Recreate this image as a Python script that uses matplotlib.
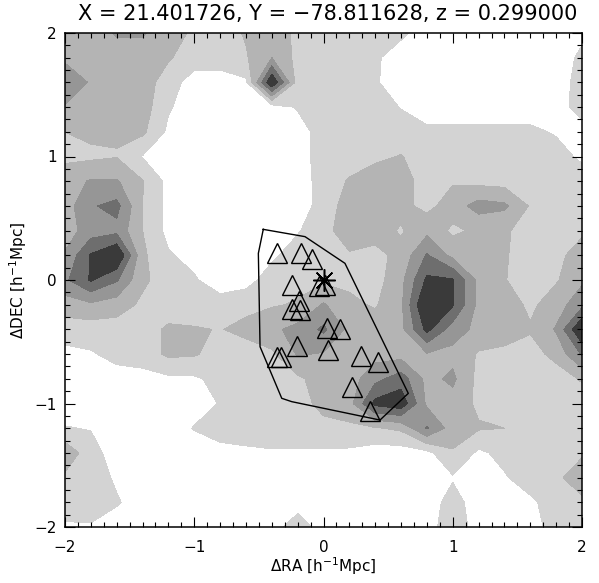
import matplotlib
matplotlib.use("Agg")
import numpy as np
import matplotlib.pyplot as plt
from matplotlib.ticker import MultipleLocator

# Grid nodes of the smoothed galaxy density map [h^-1 Mpc]
ra_nodes = [-2.0, -1.8, -1.6, -1.4, -1.2, -1.0, -0.8, -0.6, -0.4, -0.2, 0.0,
            0.2, 0.4, 0.6, 0.8, 1.0, 1.2, 1.4, 1.6, 1.8, 2.0]
dec_nodes = [2.0, 1.8, 1.6, 1.4, 1.2, 1.0, 0.8, 0.6, 0.4, 0.2, 0.0,
             -0.2, -0.4, -0.6, -0.8, -1.0, -1.2, -1.4, -1.6, -1.8, -2.0]

# Density (contour-level units), one row per dec node, top to bottom
density = [
    [2.0, 2.0, 2.6, 2.6, 2.0, 1.3, 1.0, 1.6, 2.0, 1.3, 1.0, 1.0, 1.0, 0.7, 0.0, 0.0, 0.0, 0.0, 0.0, 0.0, 0.3],
    [2.3, 2.0, 2.0, 2.0, 1.6, 1.0, 1.0, 1.4, 2.5, 1.2, 1.0, 1.0, 0.65, 0.0, 0.0, 0.0, 0.0, 0.0, 0.0, 0.0, 0.7],
    [3.2, 2.4, 2.0, 2.0, 1.0, 0.0, 0.0, 0.3, 5.5, 1.0, 1.0, 1.0, 0.6, 0.0, 0.0, 0.0, 0.0, 0.0, 0.0, 0.0, 0.9],
    [2.4, 2.0, 2.0, 2.0, 0.6, 0.0, 0.0, 0.0, 0.0, 0.6, 1.0, 1.0, 1.0, 0.45, 0.0, 0.0, 0.0, 0.0, 0.0, 0.0, 1.0],
    [1.5, 1.7, 1.6, 1.7, 0.3, 0.0, 0.0, 0.0, 0.0, 0.0, 1.0, 1.0, 1.0, 1.0, 0.7, 0.7, 0.7, 0.7, 0.7, 0.4, 0.0],
    [1.3, 1.3, 1.45, 0.45, 0.0, 0.0, 0.0, 0.0, 0.0, 0.0, 1.0, 1.0, 1.3, 1.55, 1.0, 1.0, 1.0, 1.0, 1.0, 0.9, 0.3],
    [2.0, 2.6, 2.6, 1.55, 0.2, 0.0, 0.0, 0.0, 0.0, 0.0, 0.9, 1.6, 2.0, 1.9, 1.1, 1.4, 1.2, 1.1, 1.0, 1.0, 1.0],
    [2.0, 3.4, 3.8, 1.5, 0.2, 0.0, 0.0, 0.0, 0.0, 0.0, 0.9, 2.0, 2.0, 1.8, 1.2, 2.0, 2.9, 2.7, 1.4, 1.0, 1.0],
    [2.0, 3.0, 3.2, 1.5, 0.2, 0.0, 0.0, 0.0, 0.0, 0.4, 1.2, 2.0, 1.9, 1.4, 2.2, 1.3, 1.7, 1.6, 1.2, 1.0, 1.3],
    [2.6, 4.6, 5.6, 1.7, 0.6, 0.2, 0.0, 0.0, 0.3, 1.0, 1.0, 1.4, 1.2, 1.8, 3.6, 2.2, 2.0, 1.6, 1.0, 1.2, 2.0],
    [3.3, 4.6, 3.6, 1.7, 1.0, 0.6, 0.0, 0.1, 1.0, 1.2, 1.3, 1.3, 1.1, 2.2, 4.7, 4.6, 2.2, 1.55, 1.0, 1.4, 2.3],
    [2.0, 2.3, 2.0, 1.3, 1.0, 0.8, 0.9, 1.2, 1.4, 1.6, 2.6, 1.7, 1.4, 2.3, 5.8, 4.6, 2.2, 2.0, 1.3, 2.0, 3.2],
    [1.0, 1.0, 1.0, 1.1, 1.65, 1.6, 1.45, 1.8, 2.3, 2.8, 3.7, 2.2, 2.0, 2.2, 4.8, 3.0, 2.2, 2.1, 1.6, 2.6, 5.6],
    [0.2, 0.4, 0.8, 0.9, 1.7, 1.6, 1.1, 1.0, 1.3, 2.6, 2.4, 2.1, 2.1, 2.1, 2.4, 2.2, 1.4, 1.2, 1.1, 1.8, 3.6],
    [0.0, 0.0, 0.1, 0.2, 0.3, 0.35, 0.8, 1.0, 1.0, 1.3, 2.0, 2.0, 3.2, 4.0, 2.2, 2.7, 1.2, 1.0, 1.0, 1.0, 1.6],
    [0.0, 0.0, 0.0, 0.0, 0.0, 0.1, 0.55, 1.0, 1.0, 1.1, 1.8, 2.1, 4.8, 5.2, 2.3, 2.1, 1.3, 1.0, 1.0, 1.0, 1.0],
    [0.55, 0.45, 0.0, 0.0, 0.0, 0.55, 0.9, 1.0, 1.0, 1.0, 1.2, 1.3, 1.4, 1.7, 3.6, 2.0, 1.6, 1.5, 1.0, 1.0, 1.0],
    [2.2, 0.9, 0.0, 0.0, 0.0, 0.0, 0.2, 0.3, 0.4, 0.4, 0.35, 0.3, 0.0, 0.0, 0.2, 1.4, 0.3, 0.8, 1.0, 1.0, 1.3],
    [1.3, 1.0, 0.35, 0.0, 0.0, 0.0, 0.0, 0.0, 0.0, 0.0, 0.0, 0.0, 0.0, 0.0, 0.0, 0.4, 0.0, 0.4, 1.0, 1.2, 2.3],
    [1.2, 1.0, 0.6, 0.0, 0.0, 0.0, 0.0, 0.0, 0.0, 0.0, 0.0, 0.0, 0.0, 0.0, 0.0, 0.9, 0.0, 0.0, 0.3, 1.0, 1.2],
    [0.3, 0.4, 0.0, 0.0, 0.0, 0.0, 0.0, 0.0, 0.0, 1.1, 0.0, 0.0, 0.0, 0.0, 0.0, 1.2, 0.0, 0.0, 0.0, 1.0, 1.0],
]

levels = [0.5, 1.5, 2.5, 3.5, 4.5, 99]
level_colors = ['#d3d3d3', '#b4b4b4', '#969696', '#6e6e6e', '#3a3a3a']

# Member galaxies (triangles)
member_ra = [-0.357, -0.176, -0.087, -0.241, -0.035, 0.012, -0.187, -0.246, -0.182,
             0.027, 0.125, -0.208, 0.037, -0.357, -0.331, 0.290, 0.419, 0.220, 0.362]
member_dec = [0.221, 0.221, 0.173, -0.043, -0.051, -0.043, -0.170, -0.237, -0.245,
              -0.386, -0.400, -0.537, -0.570, -0.623, -0.623, -0.618, -0.667, -0.866, -1.063]

# Convex hull of the members
hull_ra = [-0.466, -0.143, 0.166, 0.656, 0.437, -0.246, -0.323, -0.491, -0.504]
hull_dec = [0.410, 0.351, 0.135, -0.918, -1.134, -0.985, -0.958, -0.540, 0.216]

# Group centre
centre_ra = [0.0]
centre_dec = [0.0]

title = "X = 21.401726, Y = \u221278.811628, z = 0.299000"
tick_vals = [-2, -1, 0, 1, 2]
tick_text = ['\u22122', '\u22121', '0', '1', '2']

fig = plt.figure(figsize=(5.99, 5.83), dpi=100)
ax = fig.add_axes([65 / 599, 1 - 527 / 583, 517 / 599, 494 / 583])

X, Y = np.meshgrid(ra_nodes, dec_nodes)
ax.contourf(X, Y, np.array(density), levels=levels, colors=level_colors)

ax.plot(hull_ra + hull_ra[:1], hull_dec + hull_dec[:1], color='black', lw=1.0)
ax.plot(member_ra, member_dec, linestyle='none', marker='^', markersize=14,
        markerfacecolor='none', markeredgecolor='black', markeredgewidth=1.0)
ax.plot(centre_ra, centre_dec, linestyle='none', marker=(8, 2, 0), markersize=16,
        color='black', markeredgewidth=1.1)

ax.set_xlim(-2, 2)
ax.set_ylim(-2, 2)
ax.xaxis.set_minor_locator(MultipleLocator(0.1))
ax.yaxis.set_minor_locator(MultipleLocator(0.1))
ax.set_xticks(tick_vals)
ax.set_yticks(tick_vals)
ax.set_xticklabels(tick_text)
ax.set_yticklabels(tick_text)
ax.tick_params(which='both', direction='in', top=True, right=True, width=0.8,
               labelsize=11, colors='black')
ax.tick_params(which='major', length=7.5)
ax.tick_params(which='minor', length=3.8)
ax.tick_params(axis='x', which='major', pad=9)
ax.tick_params(axis='y', which='major', pad=6)
for s in ax.spines.values():
    s.set_linewidth(1.1)

fig.text(327.5 / 599, 1 - 14 / 583, title, ha='center', va='center', fontsize=15)
fig.text(323.5 / 599, 1 - 566 / 583, r'$\Delta$RA [h$^{-1}$Mpc]', ha='center', va='center',
         fontsize=11)
fig.text(18 / 599, 1 - 280 / 583, r'$\Delta$DEC [h$^{-1}$Mpc]', ha='center', va='center',
         fontsize=11, rotation=90)

fig.savefig("out.png", dpi=100)
